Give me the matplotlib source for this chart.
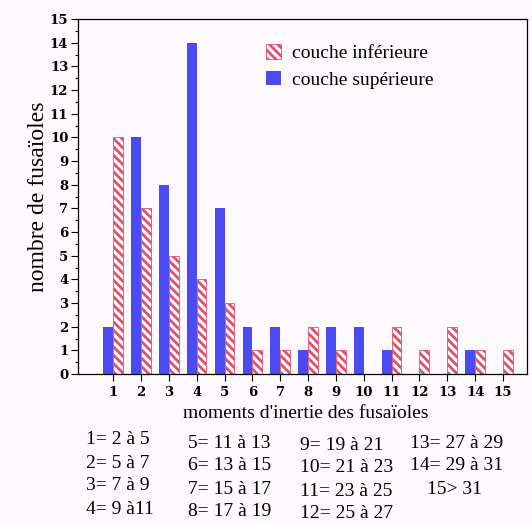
import matplotlib.pyplot as plt
import numpy as np
from matplotlib.patches import Patch
from matplotlib.ticker import MultipleLocator

# classes de moments d'inertie
classes = list(range(1, 16))
superieure = [2, 10, 8, 14, 7, 2, 2, 1, 2, 2, 1, 0, 0, 1, 0]
inferieure = [10, 7, 5, 4, 3, 1, 1, 2, 1, 0, 2, 1, 2, 1, 1]

legende_classes = [
    ['1= 2 à 5', '2= 5 à 7', '3= 7 à 9', '4= 9 à11'],
    ['5= 11 à 13', '6= 13 à 15', '7= 15 à 17', '8= 17 à 19'],
    ['9= 19 à 21', '10= 21 à 23', '11= 23 à 25', '12= 25 à 27'],
    ['13= 27 à 29', '14= 29 à 31', '15> 31'],
]

bleu = '#4b4bf3'
rouge = '#e0506a'
fond = '#fdf9fd'
serif = ['Liberation Serif', 'DejaVu Serif']

plt.rcParams['hatch.linewidth'] = 2.0
plt.rcParams['font.family'] = serif

W, H = 532, 523
fig = plt.figure(figsize=(W / 100, H / 100), dpi=100, facecolor=fond)
ax = fig.add_axes([78 / W, 1 - 374 / H, (527 - 78) / W, (374 - 19) / H])
ax.set_facecolor(fond)

x = np.array(classes)
w = 0.35
ax.bar(x - w / 2, superieure, width=w, color=bleu, linewidth=0)
ax.bar(x + w / 2, inferieure, width=w, facecolor='white', edgecolor=rouge,
       hatch='\\\\\\\\', linewidth=0.6)

ax.set_xlim(-0.26, 15.86)
ax.set_ylim(0, 15)
ax.set_xticks(classes)
ax.set_yticks(range(16))
ax.yaxis.set_minor_locator(MultipleLocator(0.5))
ax.tick_params(axis='both', which='major', direction='out', length=5, width=0.8,
               pad=2)
ax.tick_params(axis='x', which='major', pad=4)
ax.tick_params(axis='y', which='minor', direction='out', length=2.5, width=0.8)
for lab in ax.get_xticklabels() + ax.get_yticklabels():
    lab.set_family('DejaVu Serif')
    lab.set_fontsize(9.5)
    lab.set_fontweight('bold')
for s in ax.spines.values():
    s.set_linewidth(0.9)

ax.set_ylabel('nombre de fusaïoles', fontsize=17)
ax.yaxis.set_label_coords(-0.065, 0.5)

handles = [Patch(facecolor='white', edgecolor=rouge, hatch='\\\\\\\\', linewidth=0.6),
           Patch(facecolor=bleu, linewidth=0)]
ax.legend(handles, ['couche inférieure', 'couche supérieure'], loc='upper left',
          bbox_to_anchor=(0.38, 0.978), frameon=False, fontsize=14,
          handlelength=0.75, handleheight=0.75, handletextpad=0.6, labelspacing=0.45)

fig.text(306 / W, 1 - 414 / H, "moments d'inertie des fusaïoles", ha='center',
         va='center', fontsize=14)

col_x = [86, 188, 300, 410]
col_y0 = [440, 443, 445, 443]
for c, items in enumerate(legende_classes):
    for r, t in enumerate(items):
        xx = col_x[c]
        if t.startswith('15>'):
            xx = 427
        fig.text(xx / W, 1 - (col_y0[c] + r * 23) / H, t, ha='left', va='center',
                 fontsize=14)

fig.savefig('out.png', dpi=100, facecolor=fond)
